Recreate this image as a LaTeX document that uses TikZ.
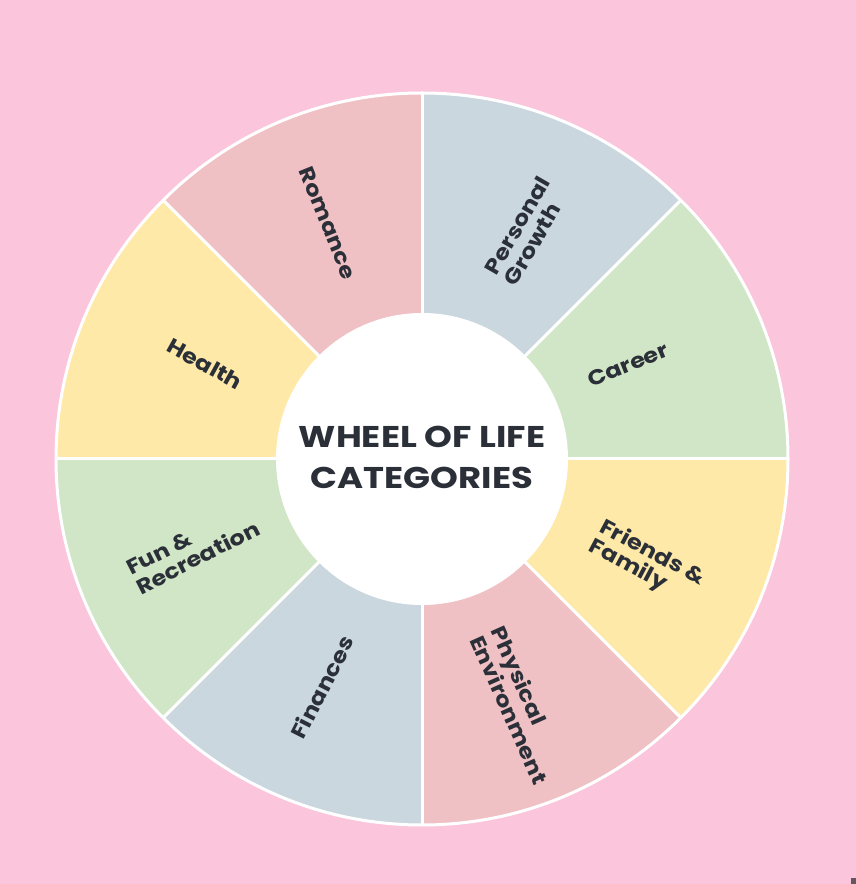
\documentclass[tikz,border=0pt]{standalone}
\usepackage{fontspec}
\setmainfont{Poppins}
\newfontfamily\wideface{Poppins}[FakeStretch=1.15]
\newfontfamily\titleface{Poppins}[FakeStretch=1.18]
\definecolor{bgpink}{RGB}{251,197,220}
\definecolor{spink}{RGB}{240,193,196}
\definecolor{sblue}{RGB}{203,215,223}
\definecolor{sgreen}{RGB}{208,230,198}
\definecolor{syellow}{RGB}{255,233,168}
\definecolor{ink}{RGB}{43,48,56}
\definecolor{speck}{RGB}{100,85,95}
\tikzset{
  lab/.style={text=ink, font=\wideface\fontsize{21}{22}\selectfont\bfseries, align=left, inner sep=0pt},
  ttl/.style={text=ink, font=\titleface\fontsize{30}{41}\selectfont\bfseries, align=center, inner sep=0pt},
  sep/.style={white, line width=3pt}
}
\begin{document}
\begin{tikzpicture}[x=1pt,y=1pt]
\useasboundingbox (0,0) rectangle (856,884);
\fill[bgpink] (0,0) rectangle (856,884);
\coordinate (c) at (422,425);
\begin{scope}[shift={(422,425)}]
\foreach \a/\col in {0/sgreen,45/sblue,90/spink,135/syellow,180/sgreen,225/sblue,270/spink,315/syellow}
  \fill[\col] (0,0) -- (\a:366) arc[start angle=\a, delta angle=45, radius=366] -- cycle;
\foreach \a in {0,45,...,315}
  \draw[sep] (0,0) -- (\a:366);
\draw[sep] (0,0) circle[radius=366];
\fill[white] (0,0) circle[radius=146];
\end{scope}
\node[ttl] (title) at (422,427) {WHEEL OF LIFE\\CATEGORIES};
\node[lab, rotate=-68] (romance) at (328,661) {Romance};
\node[lab, rotate=60] (growth) at (527,653) {Personal\\Growth};
\node[lab, rotate=22] (career) at (628,519) {Career};
\node[lab, rotate=-28] (friends) at (647,321) {Friends \&\\Family};
\node[lab, rotate=-66] (physical) at (520,179) {Physical\\Environment};
\node[lab, rotate=63] (finances) at (322,197) {Finances};
\node[lab, rotate=27] (fun) at (193,336) {Fun \&\\Recreation};
\node[lab, rotate=-29] (health) at (205,520) {Health};
\fill[speck] (851,0) rectangle (856,6);
\end{tikzpicture}
\end{document}
